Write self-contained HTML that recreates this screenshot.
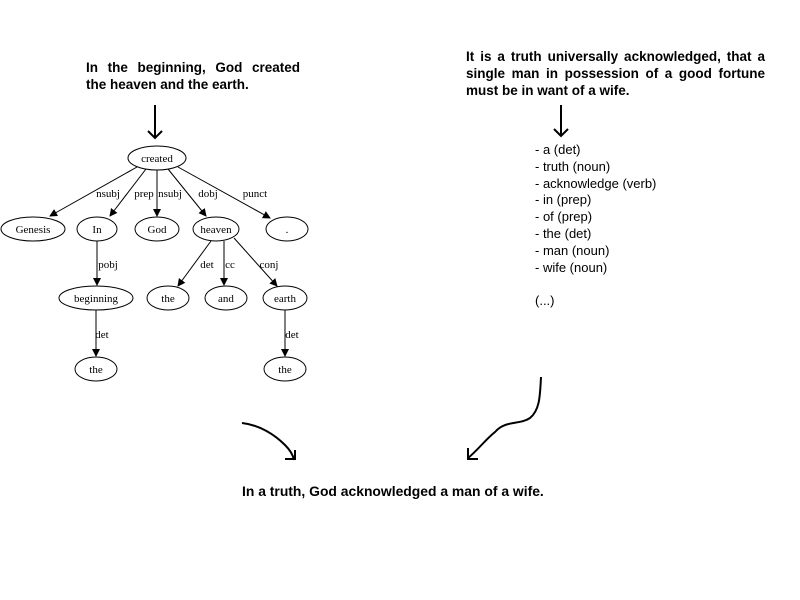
<!DOCTYPE html>
<html><head><style>
body{margin:0;background:#fff;width:800px;height:600px;overflow:hidden;position:relative;font-family:"Liberation Sans",sans-serif}
.b{position:absolute;font-weight:bold;font-size:13.5px;line-height:17px;color:#000}
.j{text-align:justify;text-align-last:justify}
.l{position:absolute;left:535px;font-size:13px;line-height:16.8px}
</style></head><body>
<div class="b" style="left:86px;top:59px;width:214px"><div class="j">In the beginning, God created</div><div>the heaven and the earth.</div></div>
<div class="b" style="left:466px;top:48px;width:299px"><div class="j">It is a truth universally acknowledged, that a</div><div class="j">single man in possession of a good fortune</div><div>must be in want of a wife.</div></div>
<div class="l" style="top:142px">- a (det)<br>- truth (noun)<br>- acknowledge (verb)<br>- in (prep)<br>- of (prep)<br>- the (det)<br>- man (noun)<br>- wife (noun)<br><br>(...)</div>
<div class="b" style="left:242px;top:483px;font-size:13.9px">In a truth, God acknowledged a man of a wife.</div>
<svg width="800" height="600" style="position:absolute;left:0;top:0" font-family="Liberation Serif" font-size="11">
<defs><marker id="a" markerWidth="8" markerHeight="8" refX="7" refY="4" orient="auto" markerUnits="userSpaceOnUse"><path d="M0,0L8,4L0,8z" fill="#000"/></marker></defs>
<g stroke="#000" stroke-width="2" fill="none">
<path d="M155,105V138M148,131L155,138L162,131"/>
<path d="M561,105V136M554,129L561,136L568,129"/>
<path d="M242,423C260,425 275,435 285,445 290,450 293,455 294,460M285,459H295V450"/>
<path d="M541,377C540,395 540,410 530,418 520,425 505,420 495,432 485,440 478,450 468,458M468,448V459H478"/>
</g>
<g stroke="#000" fill="none" stroke-width="1">
<ellipse cx="157" cy="158" rx="29" ry="12"/>
<ellipse cx="33" cy="229" rx="32" ry="12"/>
<ellipse cx="97" cy="229" rx="20" ry="12"/>
<ellipse cx="157" cy="229" rx="22" ry="12"/>
<ellipse cx="216" cy="229" rx="23" ry="12"/>
<ellipse cx="287" cy="229" rx="21" ry="12"/>
<ellipse cx="96" cy="298" rx="37" ry="12"/>
<ellipse cx="168" cy="298" rx="21" ry="12"/>
<ellipse cx="226" cy="298" rx="21" ry="12"/>
<ellipse cx="285" cy="298" rx="22" ry="12"/>
<ellipse cx="96" cy="369" rx="21" ry="12"/>
<ellipse cx="285" cy="369" rx="21" ry="12"/>
<g marker-end="url(#a)">
<path d="M137,167L50,216"/>
<path d="M146,169L110,216"/>
<path d="M157,170V216"/>
<path d="M168,169L206,216"/>
<path d="M178,167L270,218"/>
<path d="M97,241V285"/>
<path d="M211,241L178,286"/>
<path d="M224,241V285"/>
<path d="M234,238L277,286"/>
<path d="M96,310V356"/>
<path d="M285,310V356"/>
</g></g>
<g text-anchor="middle" fill="#000">
<text x="157" y="162">created</text><text x="33" y="233">Genesis</text><text x="97" y="233">In</text>
<text x="157" y="233">God</text><text x="216" y="233">heaven</text><text x="287" y="233">.</text>
<text x="96" y="302">beginning</text><text x="168" y="302">the</text><text x="226" y="302">and</text>
<text x="285" y="302">earth</text><text x="96" y="373">the</text><text x="285" y="373">the</text>
<text x="108" y="197">nsubj</text><text x="144" y="197">prep</text><text x="170" y="197">nsubj</text>
<text x="208" y="197">dobj</text><text x="255" y="197">punct</text><text x="108" y="268">pobj</text>
<text x="207" y="268">det</text><text x="230" y="268">cc</text><text x="269" y="268">conj</text>
<text x="102" y="338">det</text><text x="292" y="338">det</text>
</g></svg>
</body></html>
